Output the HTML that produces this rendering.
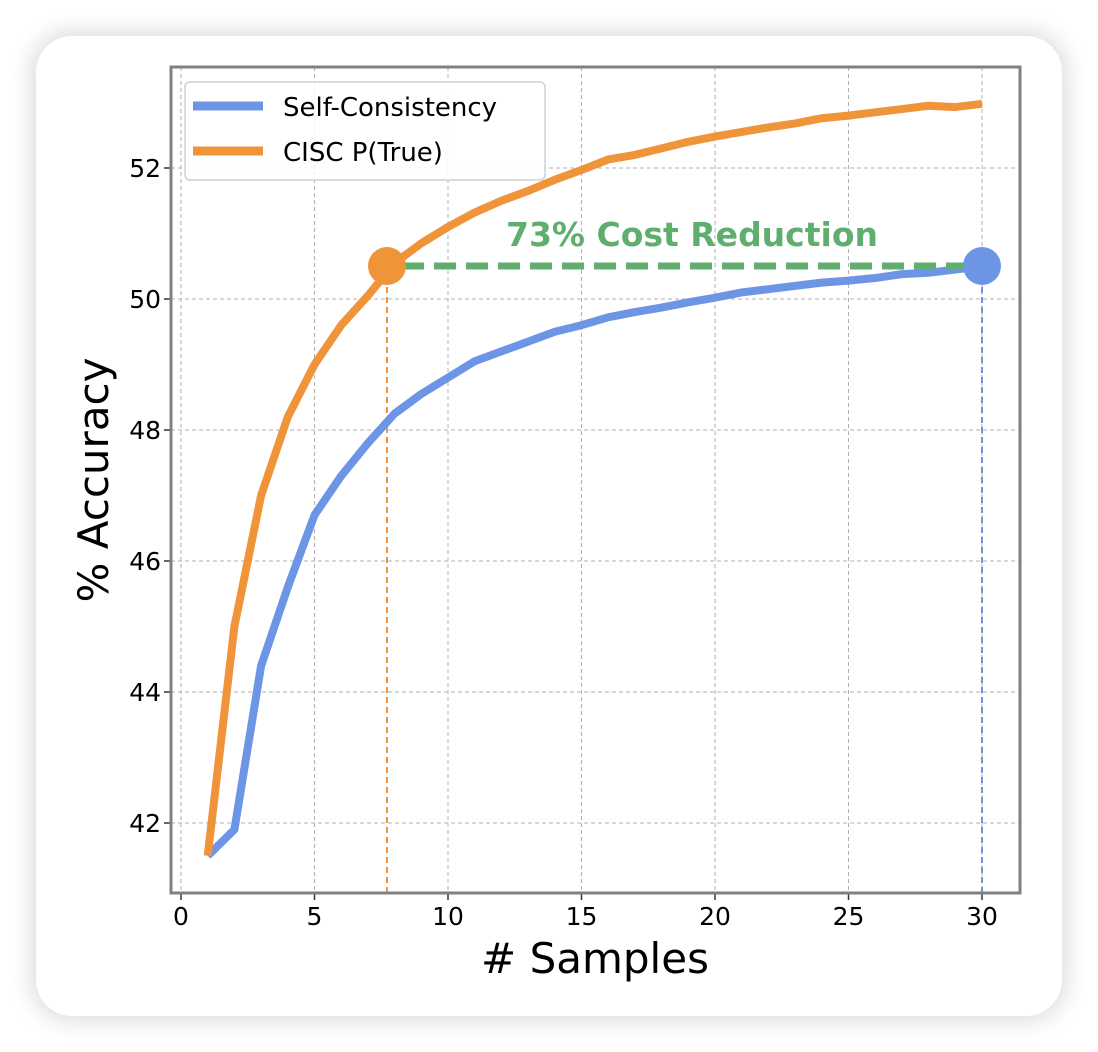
<!DOCTYPE html>
<html><head><meta charset="utf-8"><style>
html,body{margin:0;padding:0;background:#fff;}
body{width:1098px;height:1052px;position:relative;overflow:hidden;font-family:"DejaVu Sans","Liberation Sans",sans-serif;}
.card{position:absolute;left:36px;top:36px;width:1026px;height:980px;background:#fff;border-radius:36px;box-shadow:0 0 22px 6px rgba(0,0,0,0.13);}
svg{position:absolute;left:0;top:0;}
</style></head><body>
<div class="card"></div>
<svg id="s" width="1098" height="1052" font-family="DejaVu Sans, Liberation Sans, sans-serif"></svg>
<script>
const X=s=>181+s*26.7, Y=v=>299-(v-50)*65.5;
const blue=[41.5,41.9,44.4,45.6,46.7,47.3,47.8,48.25,48.55,48.8,49.05,49.2,49.35,49.5,49.6,49.72,49.8,49.87,49.95,50.02,50.1,50.15,50.2,50.25,50.28,50.32,50.38,50.4,50.45,50.5];
const or=[41.5,45.0,47.0,48.2,49.0,49.6,50.05,50.55,50.85,51.1,51.32,51.5,51.65,51.82,51.97,52.13,52.2,52.3,52.4,52.48,52.55,52.62,52.68,52.76,52.8,52.85,52.9,52.95,52.93,52.98];
let h='';
const L=171,R=1020,T=67,B=893;
for(let s=0;s<=30;s+=5){h+=`<line x1="${X(s)}" y1="${T}" x2="${X(s)}" y2="${B}" stroke="#b0b0b0" stroke-width="1" stroke-dasharray="4,3"/>`;
h+=`<line x1="${X(s)}" y1="${B}" x2="${X(s)}" y2="${B+7}" stroke="#333" stroke-width="1.5"/><text x="${X(s)}" y="${B+32}" font-size="25" text-anchor="middle">${s}</text>`;}
for(let v=42;v<=52;v+=2){h+=`<line x1="${L}" y1="${Y(v)}" x2="${R}" y2="${Y(v)}" stroke="#b0b0b0" stroke-width="1" stroke-dasharray="4,3"/>`;
h+=`<line x1="${L-7}" y1="${Y(v)}" x2="${L}" y2="${Y(v)}" stroke="#333" stroke-width="1.5"/><text x="${L-10}" y="${Y(v)+9}" font-size="25" text-anchor="end">${v}</text>`;}
const pts=a=>a.map((v,i)=>X(i+1)+','+Y(v)).join(' ');
h+=`<line x1="387" y1="267" x2="387" y2="${B}" stroke="#f0943a" stroke-width="2" stroke-dasharray="6,4"/>`;
h+=`<line x1="982" y1="267" x2="982" y2="${B}" stroke="#6d95e6" stroke-width="2" stroke-dasharray="6,4"/>`;
h+=`<polyline points="${pts(blue)}" fill="none" stroke="#6d95e6" stroke-width="8" stroke-linejoin="round"/>`;
h+=`<polyline points="${pts(or)}" fill="none" stroke="#f0943a" stroke-width="8" stroke-linejoin="round"/>`;
h+=`<line x1="402" y1="266" x2="975" y2="266" stroke="#5fae6e" stroke-width="7" stroke-dasharray="22,10"/>`;
h+=`<circle cx="387" cy="266" r="19" fill="#f0943a"/><circle cx="982" cy="266" r="19" fill="#6d95e6"/>`;
h+=`<text x="692" y="246" font-size="33" font-weight="bold" fill="#5fae6e" text-anchor="middle">73% Cost Reduction</text>`;
h+=`<rect x="${L}" y="${T}" width="${R-L}" height="${B-T}" fill="none" stroke="#808080" stroke-width="3"/>`;
h+=`<rect x="185" y="82" width="360" height="98" rx="5" fill="#fff" fill-opacity="0.85" stroke="#d0d0d0" stroke-width="1.5"/>`;
h+=`<line x1="193" y1="106" x2="263" y2="106" stroke="#6d95e6" stroke-width="9"/><text x="283" y="116" font-size="26">Self-Consistency</text>`;
h+=`<line x1="193" y1="151" x2="263" y2="151" stroke="#f0943a" stroke-width="9"/><text x="283" y="161" font-size="26">CISC P(True)</text>`;
h+=`<text x="595" y="973" font-size="42" text-anchor="middle"># Samples</text>`;
h+=`<text transform="translate(108,480) rotate(-90)" font-size="42" text-anchor="middle">% Accuracy</text>`;
document.getElementById('s').innerHTML=h;
</script>
</body></html>
